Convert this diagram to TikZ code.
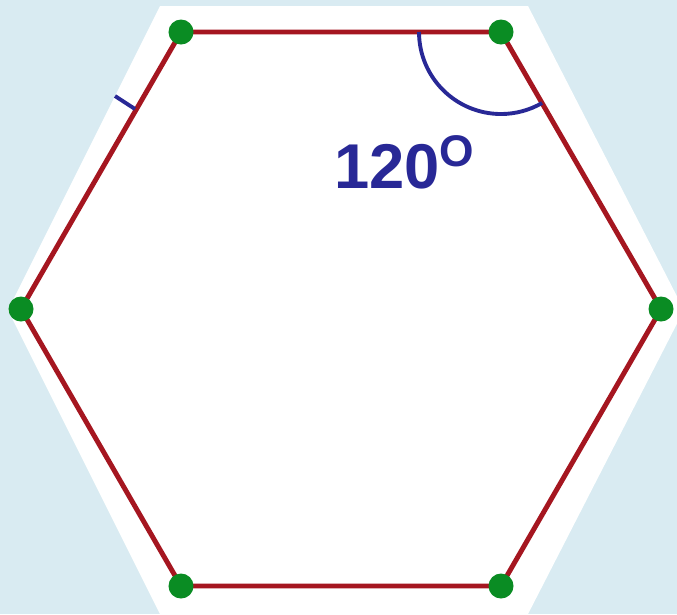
\documentclass[tikz,border=0pt]{standalone}
\usepackage{fontspec}
\setmainfont{Liberation Sans}
\usetikzlibrary{positioning,calc}
\definecolor{bgblue}{RGB}{217,235,242}
\definecolor{edgered}{RGB}{165,22,32}
\definecolor{dotgreen}{RGB}{10,140,35}
\definecolor{markblue}{RGB}{40,40,150}
\tikzset{
  hexedge/.style={edgered,line width=1.4pt,line join=round},
  vdot/.style={circle,fill=dotgreen,minimum size=0.25cm,inner sep=0pt},
  anglemark/.style={markblue,line width=1.1pt},
  angletext/.style={markblue,font=\fontsize{18}{20}\selectfont\bfseries}
}
\begin{document}
\begin{tikzpicture}[x=0.01cm,y=-0.01cm]
\fill[bgblue] (0,0) rectangle (677,614);
\useasboundingbox (0,0) rectangle (677,614);
\clip (0,0) rectangle (677,614);
% white card behind the hexagon
\fill[white] (160,6) -- (528,6) -- (684,310) -- (528,614) -- (160,614) -- (8,310) -- cycle;
% vertices
\coordinate (tl) at (181,32);
\coordinate (tr) at (501,32);
\coordinate (r) at (661,309);
\coordinate (br) at (501,586);
\coordinate (bl) at (181,586);
\coordinate (l) at (21,309);
\draw[hexedge] (tl) -- (tr) -- (r) -- (br) -- (bl) -- (l) -- cycle;
% angle marks
\draw[anglemark] ($(tr)+(-82,0)$) arc[start angle=180,end angle=60,radius=82];
\draw[anglemark] (115,96) -- (135,109);
\node[angletext] (ang) at (405,162) {120\textsuperscript{O}};
\foreach \v in {tl,tr,r,br,bl,l}{
  \node[vdot] (d-\v) at (\v) {};}
\end{tikzpicture}
\end{document}
